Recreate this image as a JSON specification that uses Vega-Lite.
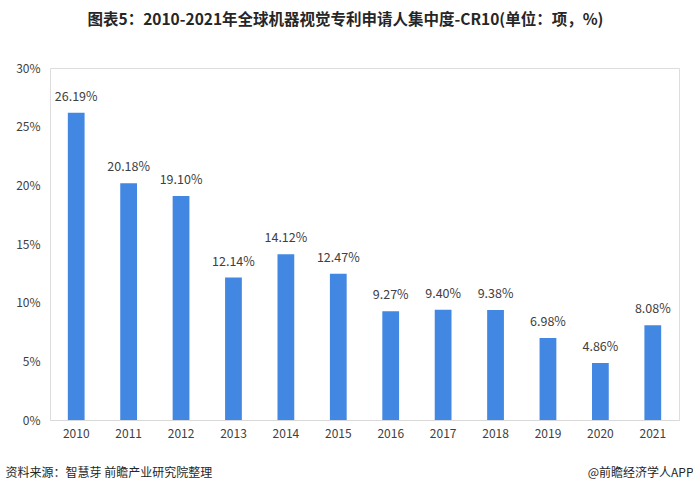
{
  "$schema": "https://vega.github.io/schema/vega-lite/v6.json",
  "autosize": "none",
  "width": 629,
  "height": 352,
  "padding": {"left": 50, "top": 68, "right": 14, "bottom": 75},
  "background": "white",
  "title": {
    "text": "图表5：2010-2021年全球机器视觉专利申请人集中度-CR10(单位：项，%)",
    "font": "Noto Sans CJK SC",
    "fontSize": 15.5,
    "fontWeight": "bold",
    "color": "#262626",
    "anchor": "middle",
    "frame": "group",
    "dx": -19,
    "offset": 34
  },
  "data": {
    "values": [
      {"year": "2010", "cr10": 26.19},
      {"year": "2011", "cr10": 20.18},
      {"year": "2012", "cr10": 19.10},
      {"year": "2013", "cr10": 12.14},
      {"year": "2014", "cr10": 14.12},
      {"year": "2015", "cr10": 12.47},
      {"year": "2016", "cr10": 9.27},
      {"year": "2017", "cr10": 9.40},
      {"year": "2018", "cr10": 9.38},
      {"year": "2019", "cr10": 6.98},
      {"year": "2020", "cr10": 4.86},
      {"year": "2021", "cr10": 8.08}
    ]
  },
  "encoding": {
    "y": {
      "field": "cr10",
      "type": "quantitative",
      "scale": {"domain": [0, 30]},
      "axis": {
        "values": [0, 5, 10, 15, 20, 25, 30],
        "labelExpr": "datum.value + '%'",
        "labelFont": "Noto Sans CJK SC",
        "labelFontSize": 12,
        "labelColor": "#404040",
        "labelPadding": 10,
        "ticks": false,
        "domain": false,
        "grid": false,
        "title": null
      }
    }
  },
  "layer": [
    {
      "mark": {"type": "bar", "color": "#4287e2"},
      "encoding": {
        "x": {
          "field": "year",
          "type": "ordinal",
          "scale": {"paddingInner": 0.68, "paddingOuter": 0.34},
          "axis": {
            "orient": "bottom",
            "labelAngle": 0,
            "labelFont": "Noto Sans CJK SC",
            "labelFontSize": 12,
            "labelColor": "#404040",
            "labelPadding": 8,
            "ticks": false,
            "domainColor": "#d9d9d9",
            "title": "资料来源：智慧芽 前瞻产业研究院整理",
            "titleFont": "Noto Sans CJK SC",
            "titleFontSize": 12,
            "titleFontWeight": "normal",
            "titleColor": "#262626",
            "titleAlign": "left",
            "titleBaseline": "middle",
            "titleX": -45,
            "titleY": 52
          }
        }
      }
    },
    {
      "mark": {
        "type": "text",
        "baseline": "bottom",
        "dy": -9,
        "font": "Noto Sans CJK SC",
        "fontSize": 12.5,
        "color": "#404040",
        "text": {"expr": "format(datum.cr10, '.2f') + '%'"}
      },
      "encoding": {
        "x": {"field": "year", "type": "ordinal", "axis": null}
      }
    },
    {
      "mark": {"type": "text", "opacity": 0, "text": ""},
      "encoding": {
        "x": {
          "field": "year",
          "type": "ordinal",
          "axis": {
            "orient": "bottom",
            "labels": false,
            "ticks": false,
            "domain": false,
            "title": "@前瞻经济学人APP",
            "titleFont": "Noto Sans CJK SC",
            "titleFontSize": 12,
            "titleFontWeight": "normal",
            "titleColor": "#262626",
            "titleAlign": "right",
            "titleBaseline": "middle",
            "titleX": 643,
            "titleY": 52
          }
        }
      }
    }
  ],
  "resolve": {"axis": {"x": "independent"}}
}
